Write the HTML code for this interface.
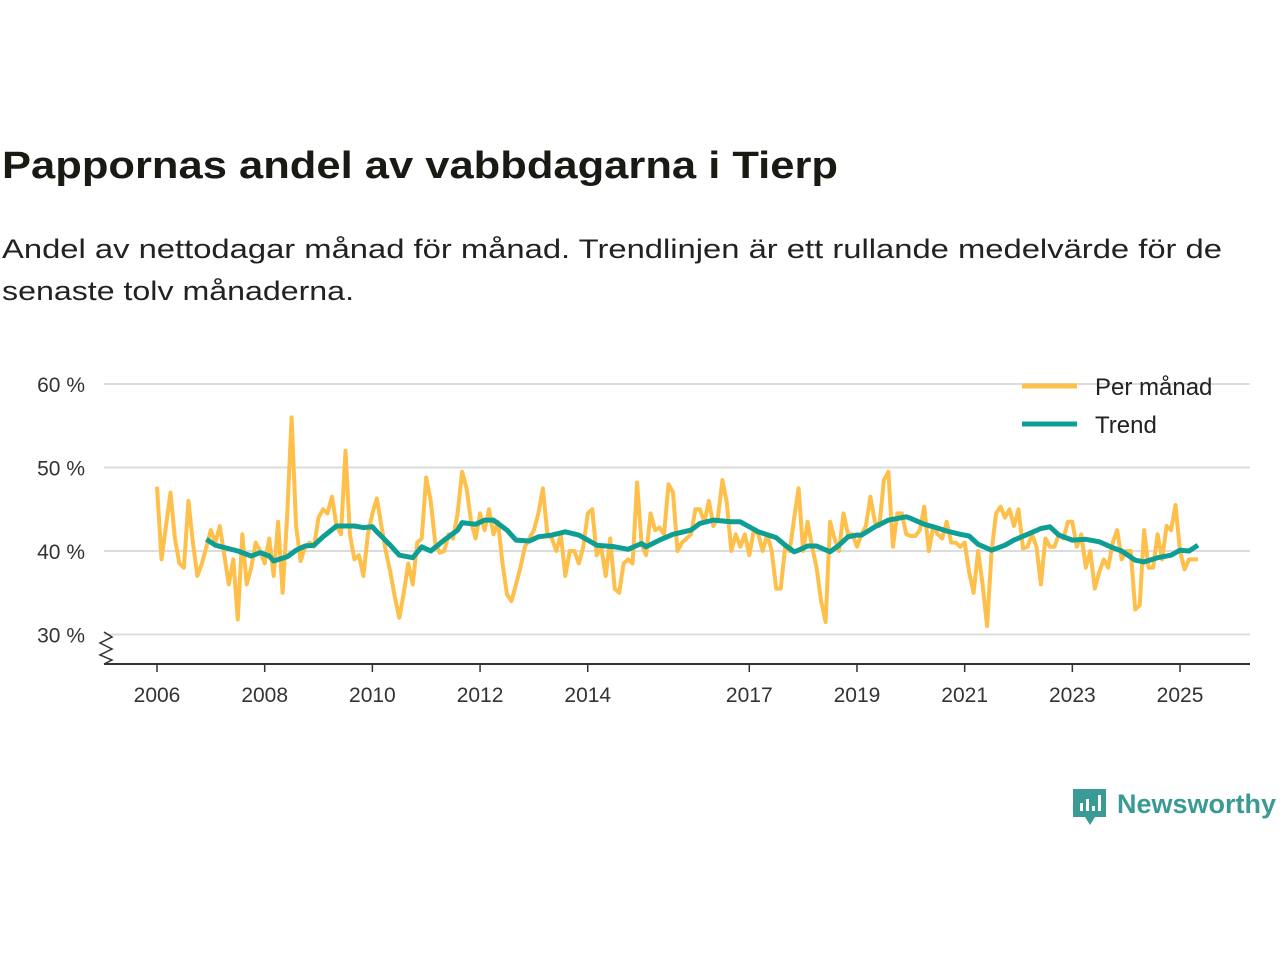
<!DOCTYPE html>
<html><head><meta charset="utf-8"><style>
html,body{margin:0;padding:0;background:#fff;}
svg{display:block;font-family:"Liberation Sans","DejaVu Sans",sans-serif;}
</style></head><body>
<svg width="1280" height="960" viewBox="0 0 1280 960">
<text x="2" y="178" font-size="38" font-weight="bold" fill="#1a1a14" textLength="836" lengthAdjust="spacingAndGlyphs">Pappornas andel av vabbdagarna i Tierp</text>
<text x="2" y="258" font-size="27" fill="#222" textLength="1220" lengthAdjust="spacingAndGlyphs">Andel av nettodagar månad för månad. Trendlinjen är ett rullande medelvärde för de</text>
<text x="2" y="300" font-size="27" fill="#222" textLength="352" lengthAdjust="spacingAndGlyphs">senaste tolv månaderna.</text>
<g id="grid"></g>
<g id="yaxis"></g>
<g id="xaxis"></g>
<g id="series"></g>
<g>
<line x1="1022" y1="386" x2="1077" y2="386" stroke="#fec04a" stroke-width="5"/>
<text x="1095" y="395" font-size="24" fill="#222">Per månad</text>
<line x1="1022" y1="424" x2="1077" y2="424" stroke="#0e9e94" stroke-width="5"/>
<text x="1095" y="433" font-size="24" fill="#222">Trend</text>
</g>
<g>
<path d="M1073 789 h33 v28 h-11 l-5 8 l-5 -8 h-12 z" fill="#3a9a94"/>
<rect x="1080" y="803" width="3" height="8" fill="#fff"/><rect x="1086" y="799" width="3" height="12" fill="#fff"/><rect x="1092" y="806" width="3" height="5" fill="#fff"/><rect x="1098" y="795" width="3" height="16" fill="#fff"/>
<text x="1117" y="813" font-size="27" font-weight="bold" fill="#3a9a94" textLength="159" lengthAdjust="spacingAndGlyphs">Newsworthy</text>
</g>
</svg>
<script>
const yTicks=[30,40,50,60];
const xTickYears=[2006,2008,2010,2012,2014,2017,2019,2021,2023,2025];
const monthly=[
47.7,39,43,47,41.5,38.5,38,46,41,37,38.5,40.5,
42.5,41,43,39.5,36,39,31.8,42,36,38,41,40,
38.5,41.5,37,43.5,35,44,56,43,38.8,40.5,41,40.5,
44,45,44.5,46.5,43,42,52,42,39,39.5,37,42,
44.5,46.3,43,40,37.5,34.5,32,35,38.5,36,41,41.5,
48.8,46,41,39.8,40,42,41.5,44.5,49.5,47.5,43.5,41.5,
44.5,42.5,45,42,43.5,38.5,34.8,34,36,38,40.5,41.5,
42.5,44.5,47.5,42,41.5,40,42,37,40,40,38.5,40.5,
44.5,45,39.5,40.5,37,41.5,35.5,35,38.5,39,38.5,48.2,
40.8,39.5,44.5,42.5,42.8,42,48,47,40,41,41.5,42,
45,45,43.5,46,43,44,48.5,45.8,40,42,40.5,42,
39.5,42.5,42,40,42,40,35.5,35.5,40.5,40,44,47.5,
40,43.5,40.5,38,34,31.5,43.5,41.5,40,44.5,42,42,
40.5,42,43,46.5,43.5,43,48.5,49.5,40.5,44.5,44.5,42,
41.8,41.8,42.5,45.3,40,43,42,41.5,43.5,41,41,40.5,
41,37.5,35,40,36,31,40,44.5,45.3,44,45,43,
45,40.3,40.5,42,40.5,36,41.5,40.5,40.5,42,41.5,43.5,
43.5,40.5,42,38,40,35.5,37.5,39,38,41,42.5,39,
40,40,33,33.5,42.5,38,38,42,39,43,42.5,45.5,
40,37.8,39,39,39];
const trendMonths=[11,13,18,21,23,25,26,29,31,33,35,37,40,44,46,48,49,52,54,57,59,61,64,67,68,71,73,75,78,80,83,85,88,91,94,96,98,102,105,108,109,112,115,119,121,124,128,130,134,138,140,142,143,145,147,150,152,154,156,157,160,163,167,168,171,173,176,179,181,183,186,189,191,194,197,199,201,204,207,210,213,215,218,220,223,226,228,230,232];
const trendValues=[41.4,40.7,40,39.4,39.8,39.4,38.8,39.3,40.1,40.6,40.7,41.7,43.0,43.0,42.8,42.9,42.3,40.7,39.5,39.2,40.5,40,41.3,42.5,43.4,43.2,43.7,43.7,42.5,41.3,41.2,41.7,41.9,42.3,41.9,41.3,40.7,40.5,40.2,40.9,40.5,41.3,42.0,42.5,43.3,43.7,43.5,43.5,42.3,41.6,40.7,39.9,40.1,40.6,40.6,39.9,40.7,41.7,41.9,41.9,42.9,43.7,44.1,43.9,43.2,42.9,42.4,42.0,41.8,40.8,40.1,40.7,41.3,42.0,42.7,42.9,41.9,41.3,41.4,41.1,40.4,40,38.9,38.7,39.2,39.5,40.1,40,40.7];

const NS='http://www.w3.org/2000/svg';
const x=m=>157+m*4.487;
const y=v=>551-(v-40)*8.35;
function mk(tag,attrs,parent){const e=document.createElementNS(NS,tag);for(const k in attrs)e.setAttribute(k,attrs[k]);parent.appendChild(e);return e;}
const grid=document.getElementById('grid'),ya=document.getElementById('yaxis'),xa=document.getElementById('xaxis'),se=document.getElementById('series');
yTicks.forEach(t=>{
  const l=mk('line',{x1:104,x2:1250,y1:y(t),y2:y(t),stroke:'#dcdcdc','stroke-width':2},grid);
  
  
  const tx=mk('text',{x:85,y:y(t)+8,'font-size':21,fill:'#333','text-anchor':'end'},ya);
  tx.textContent=t+' %';
  
  
});
const br=mk('path',{d:'M104 632 L112 637 L100 643 L112 649 L100 655 L112 660 L104 664',fill:'none',stroke:'#333','stroke-width':1.5},ya);


const ax=mk('line',{x1:104,x2:1250,y1:664,y2:664,stroke:'#333','stroke-width':2},xa);


xTickYears.forEach(yr=>{
  const px=x((yr-2006)*12);
  const tk=mk('line',{x1:px,x2:px,y1:664,y2:672,stroke:'#333','stroke-width':1.5},xa);
  
  
  const tx=mk('text',{x:px,y:702,'font-size':21,fill:'#333','text-anchor':'middle'},xa);
  tx.textContent=yr;
  
  
});
const mp=monthly.map((v,i)=>x(i).toFixed(1)+','+y(v).toFixed(1)).join(' ');
const ml=mk('polyline',{points:mp,fill:'none',stroke:'#fec04a','stroke-width':4,'stroke-linejoin':'round'},se);


const tp=trendMonths.map((m,i)=>x(m).toFixed(1)+','+y(trendValues[i]).toFixed(1)).join(' ');
const tl=mk('polyline',{points:tp,fill:'none',stroke:'#0e9e94','stroke-width':5,'stroke-linejoin':'round'},se);


</script>
</body></html>
